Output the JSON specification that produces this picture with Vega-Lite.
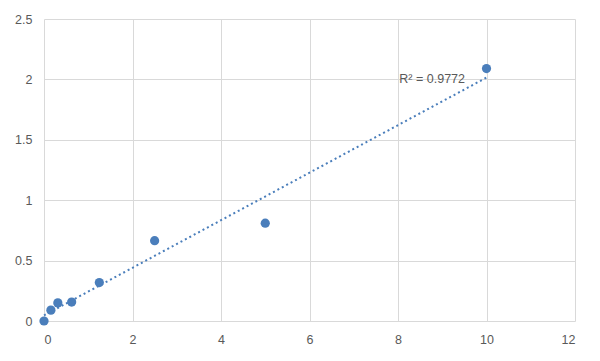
{
  "$schema": "https://vega.github.io/schema/vega-lite/v6.json",
  "width": 531,
  "height": 302,
  "autosize": {"type": "none"},
  "padding": {"left": 44, "top": 19, "right": 25, "bottom": 40},
  "background": "white",
  "config": {
    "view": {"stroke": null},
    "font": "Liberation Sans",
    "axis": {
      "grid": true,
      "gridColor": "#d9d9d9",
      "gridWidth": 1,
      "domain": false,
      "ticks": false,
      "labelColor": "#595959",
      "labelFontSize": 12.5,
      "labelFont": "Liberation Sans",
      "title": null
    }
  },
  "datasets": {
    "pts": [
      {"x": 0, "y": 0},
      {"x": 0.156, "y": 0.09},
      {"x": 0.3125, "y": 0.15},
      {"x": 0.625, "y": 0.157},
      {"x": 1.25, "y": 0.318},
      {"x": 2.5, "y": 0.665},
      {"x": 5, "y": 0.81},
      {"x": 10, "y": 2.09}
    ],
    "lbl": [{"x": 8.03, "y": 2.0, "label": "R² = 0.9772"}]
  },
  "layer": [
    {
      "data": {"name": "pts"},
      "transform": [{"regression": "y", "on": "x", "extent": [0, 10]}],
      "mark": {"type": "line", "color": "#4a7ebb", "strokeWidth": 2, "strokeDash": [2, 3]},
      "encoding": {
        "x": {"field": "x", "type": "quantitative", "scale": {"domain": [0, 12], "nice": false}, "axis": {"values": [0, 2, 4, 6, 8, 10, 12], "labelPadding": 12, "format": "~g"}},
        "y": {"field": "y", "type": "quantitative", "scale": {"domain": [0, 2.5], "nice": false}, "axis": {"values": [0, 0.5, 1, 1.5, 2, 2.5], "labelPadding": 12, "format": ".2~f"}}
      }
    },
    {
      "data": {"name": "pts"},
      "mark": {"type": "circle", "color": "#4a7ebb", "opacity": 1, "size": 85},
      "encoding": {
        "x": {"field": "x", "type": "quantitative"},
        "y": {"field": "y", "type": "quantitative"}
      }
    },
    {
      "data": {"name": "lbl"},
      "mark": {"type": "text", "align": "left", "baseline": "middle", "fontSize": 12.5, "color": "#595959", "font": "Liberation Sans"},
      "encoding": {
        "x": {"field": "x", "type": "quantitative"},
        "y": {"field": "y", "type": "quantitative"},
        "text": {"field": "label"}
      }
    }
  ]
}
